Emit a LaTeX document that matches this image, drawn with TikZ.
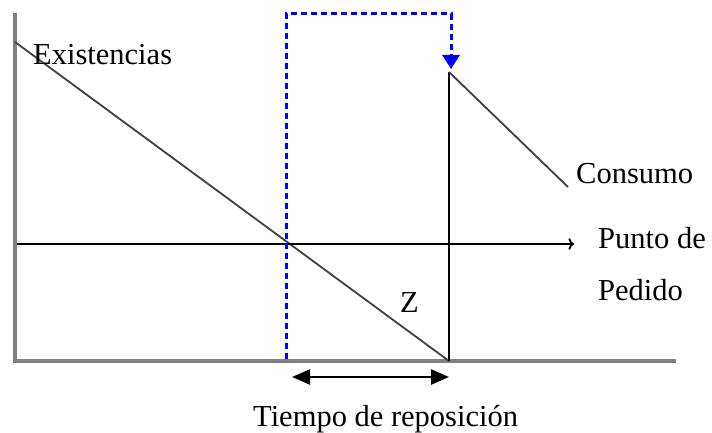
\documentclass[tikz,border=0pt]{standalone}
\usepackage{fontspec}
\setmainfont{Liberation Serif}
\usepackage{xcolor}
\usetikzlibrary{calc,arrows.meta}

\begin{document}
\begin{tikzpicture}[x=1pt,y=-1pt,
  lbl/.style={font=\fontsize{30.5}{34}\selectfont, inner sep=0pt, anchor=base west}]
  \useasboundingbox (0,0) rectangle (712,433);
  % axes
  \coordinate (top) at (15,13);
  \coordinate (orig) at (15,361);
  \coordinate (xend) at (676,361);
  \draw[gray, line width=3.5pt] (top) -- (orig) -- (xend);
  % stock line and refill
  \coordinate (start) at (15,42);
  \coordinate (zero) at (449,361);
  \coordinate (peak) at (449,72);
  \coordinate (cons) at (568,187);
  \draw[line width=1.8pt, black!75] (start) -- (zero);
  \draw[line width=2.5pt] (zero) -- (peak);
  \draw[line width=1.8pt, black!75] (peak) -- (cons);
  % reorder level
  \coordinate (pl) at (17,244);
  \coordinate (pr) at (574,244);
  \draw[->, line width=1.8pt] (pl) -- (pr);
  % order signal
  \coordinate (b1) at (286,359);
  \coordinate (b2) at (286,14);
  \coordinate (b3) at (451,14);
  \coordinate (b4) at (451,69);
  \draw[blue, line width=3pt, dash pattern=on 6pt off 4pt, -{Triangle[length=14pt,width=17pt]}]
    (b1) -- (b2) -- (b3) -- (b4);
  % lead time
  \coordinate (tl) at (292,377);
  \coordinate (tr) at (449,377);
  \draw[line width=2.5pt, {Triangle[length=18pt,width=15pt]}-{Triangle[length=18pt,width=15pt]}] (tl) -- (tr);
  \node[lbl] (exist) at (33,65) {Existencias};
  \node[lbl] (consumo) at (576,183) {Consumo};
  \node[lbl] (punto) at (598,248) {Punto de};
  \node[lbl] (pedido) at (598,300) {Pedido};
  \node[lbl] (z) at (400,312) {Z};
  \node[lbl] (tiempo) at (253,426) {Tiempo de reposición};
\end{tikzpicture}
\end{document}
